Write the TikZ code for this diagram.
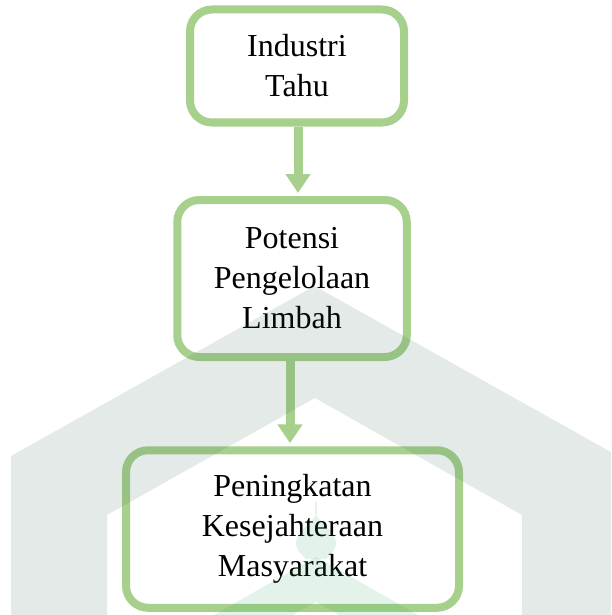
\documentclass[tikz,border=0pt]{standalone}
\usepackage{fontspec}
\setmainfont{Liberation Serif}
\usetikzlibrary{arrows.meta}
\definecolor{boxgreen}{RGB}{168,208,141}
\definecolor{wmgray}{RGB}{38,88,72}
\definecolor{wmgreen}{RGB}{30,163,80}
\tikzset{
  flowbox/.style={draw=boxgreen, line width=8pt, rounded corners=22pt,
    align=center, font=\fontsize{32}{40}\selectfont, inner sep=0pt},
  flowarrow/.style={draw=boxgreen, line width=9pt,
    -{Triangle[width=24pt,length=19pt]}},
  wmark/.style={fill opacity=0.12}
}
\begin{document}
\begin{tikzpicture}[x=1pt,y=-1pt]
\useasboundingbox (0,0) rectangle (611,615);
\clip (0,0) rectangle (611,615);
\fill[white] (0,0) rectangle (611,615);
% boxes
\node[flowbox, minimum width=214pt, minimum height=113pt] (top) at (297,66) {Industri\\Tahu};
\node[flowbox, minimum width=229.5pt, minimum height=157pt] (mid) at (292,278.5) {Potensi\\Pengelolaan\\Limbah};
\node[flowbox, minimum width=333pt, minimum height=157.5pt] (bot) at (292.5,529) {Peningkatan\\Kesejahteraan\\Masyarakat};
% connectors
\draw[flowarrow, shorten >=3pt] ([xshift=1pt]top.south) -- ([xshift=1pt]top.south |- mid.north);
\draw[flowarrow, shorten >=3pt] ([xshift=-2pt]mid.south) -- ([xshift=-2pt]mid.south |- bot.north);
% watermark
\fill[wmgray, wmark, even odd rule]
  (11,620) -- (11,456) -- (314.5,286) -- (618,456) -- (618,620) -- cycle
  (107,620) -- (107,515) -- (315,398) -- (522,515) -- (522,620) -- cycle;
\fill[wmgreen, wmark]
  (316,557) -- (205,620) -- (284,620) -- (316,602) -- (348,620) -- (427,620) -- cycle;
\fill[wmgreen, wmark]
  (316,515) .. controls (322,525) and (337,532) .. (336,545)
  .. controls (335,552) and (328,556) .. (326,559) -- (306,559)
  .. controls (304,556) and (297,552) .. (296,545)
  .. controls (295,532) and (310,525) .. (316,515) -- cycle;
\fill[wmgreen, wmark] (315,502) rectangle (317,515);
\end{tikzpicture}
\end{document}
